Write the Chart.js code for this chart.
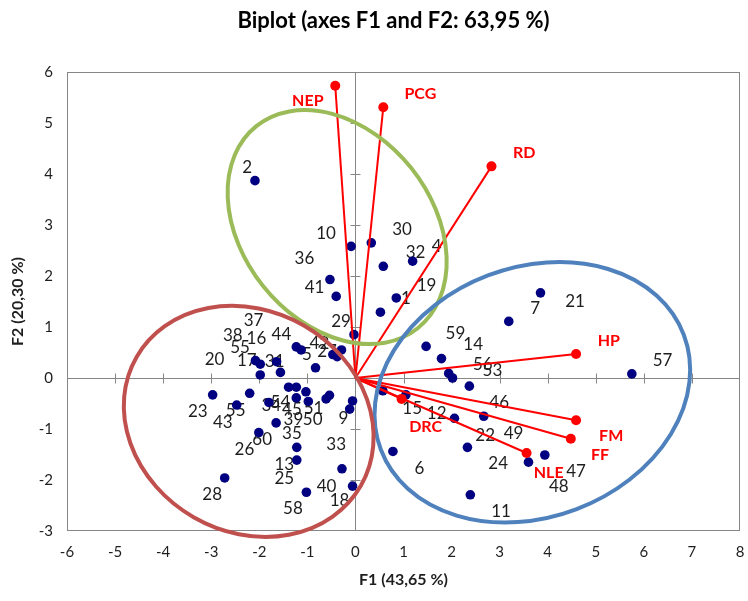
<!DOCTYPE html>
<html>
<head>
<meta charset="utf-8">
<script src="https://cdn.jsdelivr.net/npm/chart.js@4.4.1/dist/chart.umd.min.js"></script>
<style>
  html, body { margin: 0; padding: 0; background: #fff; overflow: hidden; }
  canvas { display: block; }
</style>
</head>
<body>
<canvas id="chart_biplot" width="748" height="601"></canvas>
<script>
// observations (F1, F2 scores)
const obsF1 = [
  -2.97, -2.20, -2.47, -2.08, -1.98, -1.98, -1.64, -1.56, -1.23, -1.13,
  -0.83, -0.47, -0.38, -0.29, -0.03, -1.39, -1.23, -1.03, -1.23, -0.98,
  -0.61, -0.54, -0.06, -0.12, -1.80, -1.65, -2.01, -1.22, -1.22, -2.72,
  -0.28, -0.06, -1.02,
  -0.09, 0.33, 0.58, 1.19, -0.53, -0.40, 0.85, 0.52, -2.09,
  3.85, 3.19, 1.47, 1.79, 1.94, 2.02, 2.37, 5.75, 0.57, 1.05,
  2.06, 2.67, 0.78, 2.33, 3.60, 3.94, 2.39
];
const obsF2 = [
  -0.33, -0.30, -0.53, 0.34, 0.27, 0.06, 0.32, 0.11, 0.61, 0.55,
  0.20, 0.46, 0.42, 0.55, 0.85, -0.18, -0.18, -0.27, -0.39, -0.46,
  -0.41, -0.34, -0.45, -0.61, -0.48, -0.88, -1.07, -1.36, -1.61, -1.96,
  -1.78, -2.12, -2.24,
  2.58, 2.65, 2.19, 2.29, 1.93, 1.60, 1.57, 1.29, 3.87,
  1.67, 1.11, 0.62, 0.38, 0.09, 0.00, -0.16, 0.08, -0.25, -0.33,
  -0.79, -0.75, -1.44, -1.36, -1.65, -1.51, -2.29
];

// observation labels and where they sit
const obsLabels = [
  '37', '38', '16', '55', '17', '31', '44', '5', '42', '27', '20', '29',
  '23', '55', '43', '34', '54', '45', '51', '39', '50', '9', '60', '26',
  '35', '33', '13', '25', '28', '40', '18', '58',
  '10', '30', '36', '41', '32', '4', '19', '1', '2',
  '7', '21', '59', '14', '56', '53', '57', '46', '15', '12', '22', '49',
  '6', '24', '47', '48', '11'
];
const labelF1 = [
  -2.12, -2.55, -2.06, -2.40, -2.26, -1.68, -1.54, -1.01, -0.75, -0.59, -2.93, -0.30,
  -3.28, -2.49, -2.76, -1.75, -1.56, -1.32, -0.87, -1.29, -0.89, -0.25, -1.94, -2.31,
  -1.32, -0.40, -1.48, -1.48, -2.98, -0.60, -0.33, -1.30,
  -0.61, 0.97, -1.06, -0.85, 1.25, 1.69, 1.48, 1.05, -2.25,
  3.74, 4.57, 2.08, 2.45, 2.65, 2.85, 6.39, 2.99, 1.18, 1.69, 2.70, 3.29,
  1.33, 2.97, 4.59, 4.23, 3.03
];
const labelF2 = [
  1.12, 0.84, 0.77, 0.60, 0.34, 0.32, 0.86, 0.46, 0.68, 0.51, 0.36, 1.10,
  -0.66, -0.64, -0.87, -0.53, -0.49, -0.61, -0.59, -0.81, -0.81, -0.79, -1.21, -1.40,
  -1.09, -1.31, -1.70, -1.97, -2.28, -2.12, -2.41, -2.56,
  2.83, 2.92, 2.35, 1.77, 2.46, 2.57, 1.81, 1.55, 4.12,
  1.37, 1.50, 0.87, 0.66, 0.27, 0.14, 0.35, -0.48, -0.60, -0.69, -1.12, -1.09,
  -1.77, -1.68, -1.84, -2.13, -2.61
];

// variables (loadings)
const varNames = ['NEP', 'PCG', 'RD', 'HP', 'FM', 'FF', 'NLE', 'DRC'];
const varF1 = [-0.42, 0.58, 2.83, 4.59, 4.59, 4.48, 3.56, 0.96];
const varF2 = [5.73, 5.31, 4.15, 0.47, -0.83, -1.19, -1.47, -0.41];
const varLabelF1 = [-0.99, 1.35, 3.51, 5.27, 5.32, 5.09, 4.02, 1.46];
const varLabelF2 = [5.44, 5.57, 4.41, 0.73, -1.14, -1.50, -1.85, -0.96];

// groups drawn as ellipses (centre, half axes in F1 units, tilt in degrees)
const groupCenterF1 = [-0.38, 3.68, -2.22];
const groupCenterF2 = [2.96, -0.28, -0.85];
const groupAxisA = [2.69, 3.37, 2.69];
const groupAxisB = [1.97, 2.60, 2.30];
const groupTilt = [51.3, -20.8, 29.9];

const xMin = -6, xMax = 8, yMin = -3, yMax = 6;

const groupColors = ['#9BBB59', '#4F81BD', '#C0504D'];
const axisGray = '#868686';

const biplotExtras = {
  id: 'biplotExtras',
  beforeDatasetsDraw(chart) {
    const ctx = chart.ctx;
    const a = chart.chartArea;
    const x = chart.scales.x;
    const y = chart.scales.y;
    ctx.save();
    ctx.strokeStyle = axisGray;
    ctx.lineWidth = 1;
    ctx.strokeRect(a.left + 0.5, a.top + 0.5, a.right - a.left - 1, a.bottom - a.top - 1);

    const x0 = Math.round(x.getPixelForValue(0)) + 0.5;
    const y0 = Math.round(y.getPixelForValue(0)) + 0.5;
    ctx.beginPath();
    ctx.moveTo(a.left, y0);
    ctx.lineTo(a.right, y0);
    ctx.moveTo(x0, a.top);
    ctx.lineTo(x0, a.bottom);
    for (let v = xMin + 1; v < xMax; v++) {
      const px = Math.round(x.getPixelForValue(v)) + 0.5;
      ctx.moveTo(px, y0 - 5);
      ctx.lineTo(px, y0 + 5);
    }
    for (let v = yMin + 1; v < yMax; v++) {
      const py = Math.round(y.getPixelForValue(v)) + 0.5;
      ctx.moveTo(x0 - 5, py);
      ctx.lineTo(x0 + 5, py);
    }
    ctx.stroke();

    ctx.textAlign = 'center';
    ctx.textBaseline = 'middle';
    ctx.font = '17px Lato';
    ctx.fillStyle = '#1e1e1e';
    for (let i = 0; i < obsLabels.length; i++) {
      ctx.fillText(obsLabels[i], x.getPixelForValue(labelF1[i]), y.getPixelForValue(labelF2[i]));
    }
    ctx.font = 'bold 16px Lato';
    ctx.fillStyle = '#FF0000';
    for (let i = 0; i < varNames.length; i++) {
      ctx.fillText(varNames[i], x.getPixelForValue(varLabelF1[i]), y.getPixelForValue(varLabelF2[i]));
    }
    ctx.restore();
  },
  afterDraw(chart) {
    const ctx = chart.ctx;
    const a = chart.chartArea;
    const x = chart.scales.x;
    const y = chart.scales.y;
    const unit = x.getPixelForValue(1) - x.getPixelForValue(0);
    ctx.save();
    ctx.lineWidth = 4;
    for (let i = 0; i < groupCenterF1.length; i++) {
      ctx.save();
      ctx.strokeStyle = groupColors[i];
      ctx.translate(x.getPixelForValue(groupCenterF1[i]), y.getPixelForValue(groupCenterF2[i]));
      ctx.rotate(groupTilt[i] * Math.PI / 180);
      ctx.beginPath();
      ctx.ellipse(0, 0, groupAxisA[i] * unit, groupAxisB[i] * unit, 0, 0, 2 * Math.PI);
      ctx.stroke();
      ctx.restore();
    }
    ctx.font = 'bold 22px Lato';
    ctx.fillStyle = '#000';
    ctx.textAlign = 'center';
    ctx.textBaseline = 'middle';
    ctx.fillText('Biplot (axes F1 and F2: 63,95 %)', (a.left + a.right) / 2 - 10, 21);
    ctx.restore();
  }
};

let datasets = [];
for (let i = 0; i < varNames.length; i++) {
  datasets.push({
    type: 'line',
    label: varNames[i],
    data: [{x: 0, y: 0}, {x: varF1[i], y: varF2[i]}],
    borderColor: '#FF0000',
    backgroundColor: '#FF0000',
    borderWidth: 2,
    pointRadius: [0, 5],
    pointBorderWidth: 0,
    order: 0
  });
}
datasets.push({
  type: 'scatter',
  label: 'Observations',
  data: obsF1.map((v, i) => ({x: v, y: obsF2[i]})),
  backgroundColor: '#000080',
  borderColor: '#000080',
  pointRadius: 4.8,
  pointBorderWidth: 0,
  order: 1
});

Chart.defaults.font.family = 'Lato';
Chart.defaults.color = '#1e1e1e';

new Chart(document.getElementById('chart_biplot'), {
  type: 'scatter',
  data: { datasets: datasets },
  plugins: [biplotExtras],
  options: {
    responsive: false,
    animation: false,
    layout: { padding: { top: 72, left: 6, right: 8, bottom: 4 } },
    scales: {
      x: {
        type: 'linear',
        min: xMin,
        max: xMax,
        grid: { display: false, drawTicks: true, tickLength: 12 },
        border: { display: false },
        ticks: { stepSize: 1, padding: 0, font: { size: 15 } },
        title: {
          display: true,
          text: 'F1 (43,65 %)',
          font: { size: 16, weight: 'bold' },
          padding: { top: 4, bottom: 8 }
        },
        afterFit: (scale) => { scale.height = 66; }
      },
      y: {
        type: 'linear',
        min: yMin,
        max: yMax,
        grid: { display: false, drawTicks: true, tickLength: 14 },
        border: { display: false },
        ticks: { stepSize: 1, padding: 0, font: { size: 15 } },
        title: {
          display: true,
          text: 'F2 (20,30 %)',
          font: { size: 16, weight: 'bold' },
          padding: { top: 2, bottom: 4 }
        },
        afterFit: (scale) => { scale.width = 61; }
      }
    },
    plugins: {
      legend: { display: false },
      tooltip: { enabled: false }
    }
  }
});
</script>
</body>
</html>
